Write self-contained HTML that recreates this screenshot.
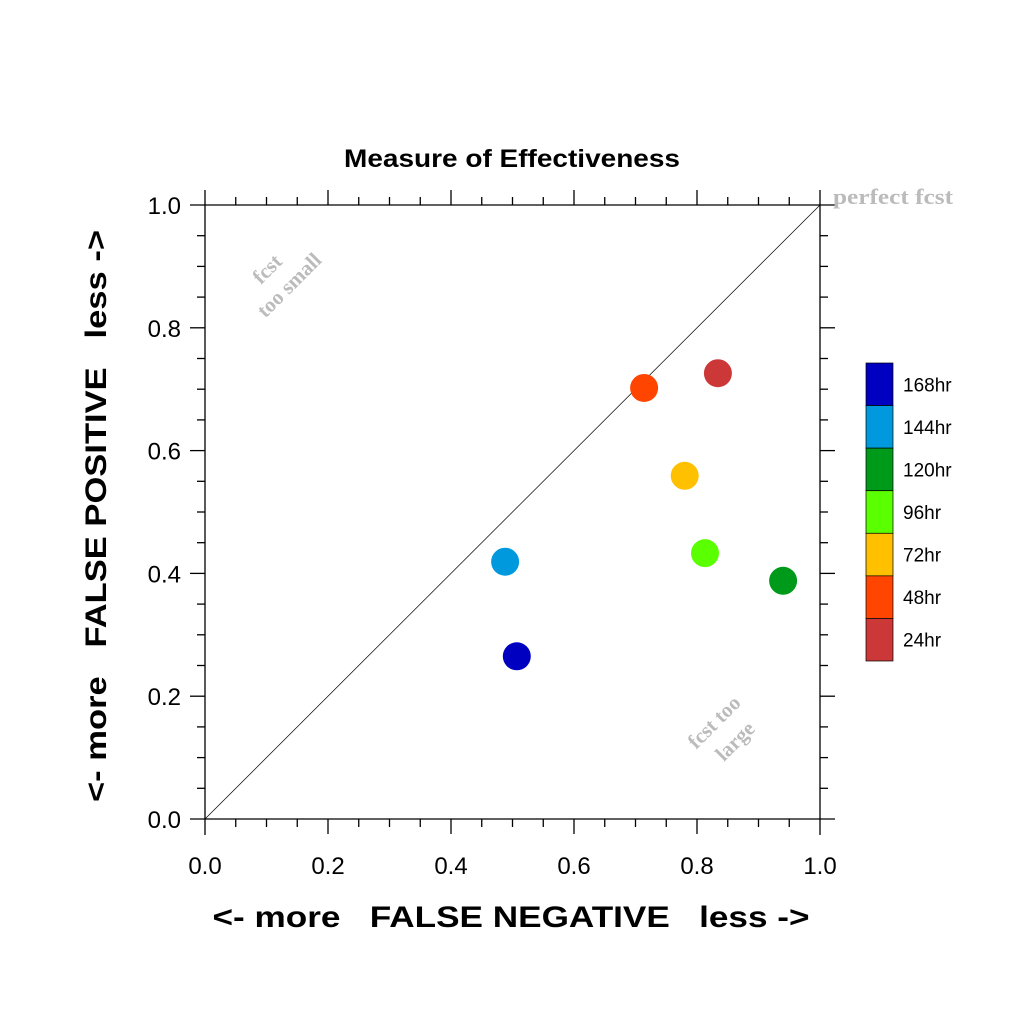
<!DOCTYPE html>
<html><head><meta charset="utf-8"><style>body{margin:0;background:#fff}svg{display:block}</style></head>
<body>
<svg id="c" width="1024" height="1024" xmlns="http://www.w3.org/2000/svg" font-family="Liberation Sans, sans-serif">
<text x="512" y="167" text-anchor="middle" font-size="25" font-weight="bold" textLength="336" lengthAdjust="spacingAndGlyphs">Measure of Effectiveness</text>
<g id="axes" stroke="#000" stroke-width="1.3"></g>
<line x1="205" y1="819" x2="820" y2="205" stroke="#000" stroke-width="0.7"/>
<g id="ticklabels" font-size="24"></g>
<text x="511" y="927" text-anchor="middle" font-size="30" font-weight="bold" xml:space="preserve" textLength="597" lengthAdjust="spacingAndGlyphs">&lt;- more   FALSE NEGATIVE   less -&gt;</text>
<text transform="translate(106,516) rotate(-90)" text-anchor="middle" font-size="30" font-weight="bold" xml:space="preserve" textLength="572" lengthAdjust="spacingAndGlyphs">&lt;- more   FALSE POSITIVE   less -&gt;</text>
<text x="833" y="204" font-family="Liberation Serif, serif" font-weight="bold" font-size="22" fill="#bbb" textLength="120" lengthAdjust="spacingAndGlyphs">perfect fcst</text>
<g font-family="Liberation Serif, serif" font-weight="bold" font-size="21" fill="#bbb" text-anchor="middle">
<text transform="translate(272,274) rotate(-45)">fcst</text>
<text transform="translate(294,290) rotate(-45)">too small</text>
<text transform="translate(719,727) rotate(-45)">fcst too</text>
<text transform="translate(740,746) rotate(-45)">large</text>
</g>
<g id="points"></g>
<g id="legend"></g>
</svg>
<script>
const leads = ["168hr","144hr","120hr","96hr","72hr","48hr","24hr"];
const fneg = [0.507,0.488,0.940,0.813,0.780,0.714,0.834];
const fpos = [0.265,0.419,0.388,0.433,0.559,0.702,0.726];
const colors = ["#0000c0","#0099dd","#009a1a","#5aff00","#ffc000","#ff4500","#cc3838"];
const ticks = [0,0.2,0.4,0.6,0.8,1.0];
const tickLabels = ["0.0","0.2","0.4","0.6","0.8","1.0"];
const NS="http://www.w3.org/2000/svg";
const X0=205,X1=820,Y0=819,Y1=205;
const sx=v=>X0+v*(X1-X0), sy=v=>Y0+v*(Y1-Y0);
function mk(t,a,p){const e=document.createElementNS(NS,t);for(const k in a)e.setAttribute(k,a[k]);p.appendChild(e);return e;}
const ax=document.getElementById('axes');
let e;
e=mk('line',{x1:190,y1:Y1,x2:835,y2:Y1},ax);


e=mk('line',{x1:190,y1:Y0,x2:835,y2:Y0},ax);


e=mk('line',{x1:X0,y1:190,x2:X0,y2:835},ax);


e=mk('line',{x1:X1,y1:190,x2:X1,y2:835},ax);


for(let i=1;i<20;i++){
  const v=i/20, L=(i%4===0)?15:8;
  const x=sx(v), y=sy(v);
  for(const [a,b,c,d] of [[x,Y1,x,Y1-L],[x,Y0,x,Y0+L],[X0,y,X0-L,y],[X1,y,X1+L,y]]){
    e=mk('line',{x1:a,y1:b,x2:c,y2:d},ax);
    
    
  }
}
const tl=document.getElementById('ticklabels');
ticks.forEach((v,i)=>{
  e=mk('text',{x:sx(v),y:874,'text-anchor':'middle'},tl);e.textContent=tickLabels[i];
  
  
  e=mk('text',{x:181,y:sy(v)+9,'text-anchor':'end'},tl);e.textContent=tickLabels[i];
  
  
});
const pts=document.getElementById('points');
leads.forEach((l,i)=>{
  e=mk('circle',{cx:sx(fneg[i]),cy:sy(fpos[i]),r:14,fill:colors[i]},pts);
  
  
});
const lg=document.getElementById('legend');
const bh=(661-363)/leads.length;
leads.forEach((l,i)=>{
  const y=363+i*bh;
  e=mk('rect',{x:866,y:y,width:27,height:bh,fill:colors[i],stroke:'#000','stroke-width':0.7},lg);
  
  
  e=mk('text',{x:903,y:y+bh/2+7,'font-size':19},lg);e.textContent=l;
  
  
});
</script>
</body></html>
